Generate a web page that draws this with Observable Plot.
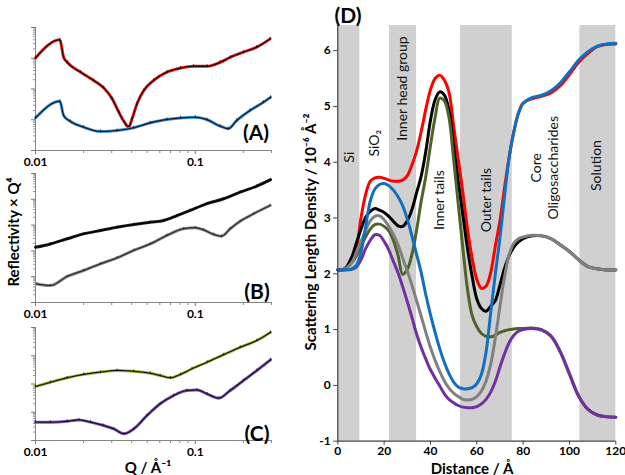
<!DOCTYPE html>
<html><head><meta charset="utf-8">
<script src="https://cdn.jsdelivr.net/npm/d3@7"></script>
<script src="https://cdn.jsdelivr.net/npm/@observablehq/plot@0.6"></script>
<style>
body{margin:0;background:#fff;}
#wrap{position:relative;width:625px;height:475px;overflow:hidden;font-family:Lato,"Noto Sans",sans-serif;}
#wrap svg{position:absolute;background:none;overflow:visible;}
.lab{position:absolute;font-weight:bold;white-space:nowrap;color:#000;line-height:1;}
</style></head><body><div id="wrap"></div>
<script>
// ---------- Panel A (log10 of Reflectivity x Q^4, arbitrary units) ----------
const qATop = [0.01,0.0142,0.015,0.0158,0.0191,0.0231,0.0267,0.0302,0.0332,0.036,0.0383,0.0402,0.0432,0.0476,0.0549,0.0665,0.0808,0.0977,0.1185,0.1434,0.1655,0.2,0.2424,0.294];
const aTop  = [3.01,3.6,3.03,2.87,2.55,2.28,2.04,1.68,1.25,0.92,0.76,1.03,1.52,1.95,2.28,2.55,2.68,2.74,2.74,2.87,3.03,3.2,3.36,3.63];
const qABot = [0.01,0.0142,0.015,0.0165,0.02,0.0255,0.0324,0.0412,0.0523,0.0665,0.0808,0.1,0.1185,0.1434,0.161,0.182,0.22,0.267,0.296];
const aBot  = [1.06,1.6,1.14,0.95,0.76,0.62,0.65,0.74,0.9,1.01,1.06,1.08,1.0,0.79,0.71,0.98,1.3,1.57,1.73];
// ---------- Panel B ----------
const qBTop = [0.01,0.0124,0.0158,0.02,0.0255,0.0324,0.0412,0.0523,0.0636,0.0769,0.093,0.1185,0.1506,0.191,0.243,0.296];
const bTop  = [2.14,2.27,2.47,2.66,2.79,2.92,3.02,3.11,3.18,3.37,3.57,3.83,4.02,4.28,4.51,4.76];
const qBBot = [0.0102,0.0124,0.0158,0.02,0.0255,0.0324,0.0412,0.0523,0.0665,0.0845,0.1,0.1124,0.13,0.146,0.1655,0.191,0.232,0.294];
const bBot  = [0.72,0.66,1.01,1.24,1.5,1.73,2.02,2.27,2.6,2.86,2.9,2.82,2.64,2.57,2.86,3.15,3.44,3.76];
// ---------- Panel C ----------
const qCTop = [0.01,0.0124,0.0158,0.02,0.0255,0.0324,0.0412,0.0523,0.0603,0.0699,0.0808,0.0954,0.1185,0.1506,0.191,0.243,0.296];
const cTop  = [1.91,2.06,2.22,2.34,2.42,2.48,2.45,2.38,2.3,2.22,2.34,2.54,2.77,3.04,3.3,3.54,3.83];
const qCBot = [0.01,0.0124,0.0158,0.0187,0.0221,0.0267,0.0309,0.0357,0.0412,0.0498,0.0603,0.0731,0.0885,0.1025,0.1185,0.1403,0.1655,0.2,0.243,0.296];
const cBot  = [0.65,0.65,0.68,0.73,0.65,0.53,0.41,0.24,0.41,0.88,1.3,1.59,1.77,1.79,1.65,1.5,1.77,2.12,2.48,2.86];
const qTickValues = [0.01, 0.1];
const qTickLabels = ["0.01","0.1"];

// ---------- Panel D (SLD profiles, 10^-6 Å^-2) ----------
const distance = [0,3,6,8,10,12,14,16,18,20,22,24,26,28,30,32,34,36,38,40,42,44,46,48,50,52,54,56,58,60,62,64,66,68,70,72,74,76,78,80,84,88,92,96,100,104,108,112,116,120];
const sldRed    = [2.07,2.09,2.25,2.45,3.0,3.42,3.66,3.72,3.73,3.71,3.68,3.66,3.66,3.68,3.76,3.95,4.2,4.55,4.95,5.3,5.5,5.56,5.47,5.25,4.65,4.05,3.45,2.8,2.28,1.9,1.74,1.78,2.02,2.5,2.95,3.55,4.1,4.55,4.88,5.06,5.14,5.18,5.24,5.37,5.57,5.79,5.95,6.07,6.11,6.12];
const sldBlack  = [2.07,2.09,2.3,2.55,2.8,3.01,3.12,3.17,3.14,3.1,3.03,2.94,2.86,2.85,2.95,3.15,3.45,3.75,4.2,4.75,5.12,5.26,5.2,4.93,4.3,3.65,3.05,2.45,1.95,1.55,1.38,1.33,1.42,1.52,1.8,2.1,2.33,2.48,2.57,2.63,2.68,2.68,2.63,2.52,2.4,2.25,2.13,2.09,2.07,2.07];
const sldOlive  = [2.07,2.09,2.2,2.32,2.5,2.66,2.8,2.88,2.89,2.85,2.77,2.6,2.33,1.99,2.08,2.35,2.78,3.3,3.75,4.3,4.8,5.15,5.1,4.8,4.05,3.25,2.45,1.72,1.25,1.05,0.93,0.88,0.87,0.9,0.95,0.98,1.0,1.01,1.02,1.02,1.03,1.0,0.89,0.61,0.21,-0.19,-0.43,-0.53,-0.56,-0.57];
const sldGrey   = [2.07,2.08,2.2,2.38,2.58,2.78,2.95,3.03,3.04,2.97,2.85,2.7,2.52,2.28,2.05,1.8,1.52,1.24,0.95,0.68,0.45,0.25,0.08,-0.05,-0.14,-0.2,-0.25,-0.26,-0.25,-0.2,-0.1,0.08,0.38,0.85,1.42,1.95,2.35,2.55,2.63,2.66,2.69,2.68,2.63,2.52,2.4,2.25,2.13,2.09,2.07,2.07];
const sldPurple = [2.07,2.07,2.08,2.12,2.25,2.45,2.6,2.7,2.69,2.58,2.43,2.22,2.02,1.77,1.5,1.22,0.92,0.68,0.47,0.28,0.13,-0.01,-0.15,-0.25,-0.31,-0.36,-0.39,-0.4,-0.4,-0.38,-0.33,-0.25,-0.12,0.07,0.33,0.57,0.77,0.9,0.97,1.0,1.02,0.99,0.88,0.6,0.2,-0.2,-0.43,-0.53,-0.56,-0.57];
const sldBlue   = [2.07,2.07,2.09,2.15,2.38,2.84,3.3,3.52,3.6,3.62,3.58,3.5,3.38,3.22,2.98,2.68,2.35,2.02,1.62,1.27,0.95,0.66,0.41,0.21,0.06,-0.03,-0.06,-0.06,-0.04,0.03,0.2,0.6,1.3,2.0,2.65,3.4,4.1,4.55,4.88,5.05,5.16,5.2,5.28,5.42,5.62,5.83,5.98,6.08,6.12,6.13];
const bandStart = [0,22.3,53,104.5];
const bandEnd   = [9.5,34,75.3,120];
const regionText = ["Si","SiO₂","Inner head group","Inner tails","Outer tails","Core","Oligosaccharides","Solution"];
const regionX    = [5.2,15.8,27.9,43.9,64.2,85.8,93.1,111.7];
const regionY    = [4.09,4.34,5.32,3.32,3.32,3.9,3.9,3.94];
const distTicks = [0,20,40,60,80,100,120];
const sldTicks = [-1,0,1,2,3,4,5,6];

const wrap = document.getElementById("wrap");
const font = 'Lato, "Noto Sans", sans-serif';

function toRows(q, v){ return q.map((x,i)=>({q:x, r:10**v[i]})); }

function reflPanel(top, h, mt, mb, decades, series){
  const yMaj = d3.range(0, decades+1).map(k=>10**k);
  const yMin = yMaj.slice(0,-1).flatMap(m=>d3.range(2,10).map(j=>j*m));
  const xMin = [0.02,0.03,0.04,0.05,0.06,0.07,0.08,0.09,0.2,0.3];
  const marks = [
    Plot.axisY({ticks:yMin, tickSize:2, tickFormat:()=>"", stroke:"#9a9a9a", label:null}),
    Plot.axisY({ticks:yMaj, tickSize:4, tickFormat:()=>"", stroke:"#777", label:null}),
    Plot.axisX({ticks:xMin, tickSize:3, tickFormat:()=>"", stroke:"#888", label:null}),
    Plot.axisX({ticks:qTickValues, tickSize:4, tickPadding:3,
      tickFormat:d=>qTickLabels[qTickValues.findIndex(t=>Math.abs(t-d)<1e-9)] ?? "",
      stroke:"#777", fill:"#000", label:null}),
    Plot.ruleX([0.01], {stroke:"#858585", strokeWidth:1}),
    Plot.ruleY([1], {stroke:"#858585", strokeWidth:1})
  ];
  for (const s of series){
    const rows = toRows(s.q, s.v);
    marks.push(Plot.line(rows, {x:"q", y:"r", stroke:s.fit, strokeWidth:3, curve:"monotone-x"}));
    marks.push(Plot.ruleX(rows, {x:"q", y1:d=>d.r/1.12, y2:d=>d.r*1.12, stroke:s.data, strokeWidth:0.8}));
    marks.push(Plot.line(rows, {x:"q", y:"r", stroke:s.data, strokeWidth:1.3, strokeDasharray:"1.6,0.7", curve:"monotone-x"}));
  }
  const svg = Plot.plot({
    width:290, height:h, marginLeft:35, marginRight:19, marginTop:mt, marginBottom:mb,
    x:{type:"log", domain:[0.01,0.3]},
    y:{type:"log", domain:[1, 10**decades]},
    style:{fontFamily:font, fontSize:"12px", fontWeight:"bold", background:"none", overflow:"visible"},
    marks
  });
  svg.style.left = "0px"; svg.style.top = top+"px";
  wrap.appendChild(svg);
}

reflPanel(0, 170, 27, 20, 4, [
  {q:qATop, v:aTop, fit:"#ff1a1a", data:"#111"},
  {q:qABot, v:aBot, fit:"#3d9ad6", data:"#1a1a2a"}
]);
reflPanel(150, 170, 23, 18, 5, [
  {q:qBTop, v:bTop, fit:"#222", data:"#000"},
  {q:qBBot, v:bBot, fit:"#8a8a8a", data:"#333"}
]);
reflPanel(300, 175, 27, 35, 4, [
  {q:qCTop, v:cTop, fit:"#a4c23e", data:"#1a1a1a"},
  {q:qCBot, v:cBot, fit:"#8a55c8", data:"#1a1a1a"}
]);

// ---------- Panel D ----------
const bands = bandStart.map((s,i)=>({x1:s, x2:bandEnd[i]}));
const labels = regionText.map((t,i)=>({text:t, x:regionX[i], y:regionY[i]}));
const series = [
  {v:sldRed, c:"#ff0000"},
  {v:sldBlack, c:"#000000"},
  {v:sldOlive, c:"#4f6228"},
  {v:sldGrey, c:"#808080"},
  {v:sldPurple, c:"#7030a0"},
  {v:sldBlue, c:"#0f6fc0"}
];
const dMarks = [
  Plot.rect(bands, {x1:"x1", x2:"x2", y1:-1, y2:6.45, fill:"#d0d0d0"}),
  Plot.text(labels, {x:"x", y:"y", text:"text", rotate:-90, fontSize:14, fontWeight:"normal", fill:"#111", fontFamily:font})
];
for (const s of series){
  dMarks.push(Plot.line(distance.map((x,i)=>({x, y:s.v[i]})), {x:"x", y:"y", stroke:s.c, strokeWidth:3, curve:"catmull-rom"}));
}
dMarks.push(
  Plot.ruleX([0], {stroke:"#404040", strokeWidth:1.2}),
  Plot.ruleY([-1], {stroke:"#404040", strokeWidth:1.2}),
  Plot.axisY({ticks:sldTicks, tickSize:4, tickPadding:3, tickFormat:d=>String(d), stroke:"#404040", fill:"#000", label:null}),
  Plot.axisX({ticks:distTicks, tickSize:4, tickPadding:1, tickFormat:d=>String(d), stroke:"#404040", fill:"#000", label:null})
);
const dsvg = Plot.plot({
  width:335, height:475, marginLeft:47.3, marginRight:9.7, marginTop:25, marginBottom:34.3,
  x:{domain:[0,120]}, y:{domain:[-1,6.45]},
  style:{fontFamily:font, fontSize:"12px", fontWeight:"bold", background:"none", overflow:"visible"},
  marks:dMarks
});
dsvg.style.left = "290px"; dsvg.style.top = "0px";
wrap.appendChild(dsvg);

// ---------- HTML labels ----------
function lab(text, x, y, size, rot){
  const d = document.createElement("div");
  d.className = "lab"; d.textContent = text;
  d.style.fontSize = size+"px";
  d.style.left = x+"px"; d.style.top = y+"px";
  d.style.transform = "translate(-50%,-50%)" + (rot ? " rotate(-90deg)" : "");
  wrap.appendChild(d);
}
lab("(A)", 256, 131, 21);
lab("(B)", 257, 290, 21);
lab("(C)", 257, 432, 21);
lab("(D)", 348, 14, 21);
lab("Reflectivity × Q⁴", 13, 232, 15, true);
lab("Q / Å⁻¹", 148, 467, 15);
lab("Scattering Length Density / 10⁻⁶ Å⁻²", 310, 232, 15, true);
lab("Distance / Å", 472, 467.5, 15);
</script>
</body></html>
